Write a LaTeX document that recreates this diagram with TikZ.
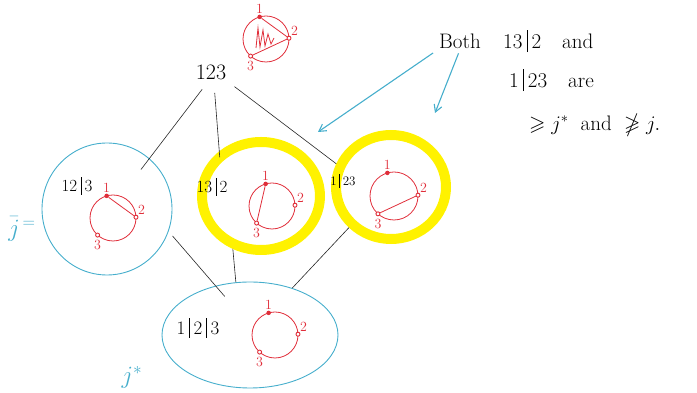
\documentclass[tikz,border=0pt]{standalone}
\usepackage{amsmath,amssymb}
\usepackage{tikz}
\usetikzlibrary{shapes.geometric,arrows.meta}
\definecolor{penblue}{RGB}{70,174,204}
\definecolor{penred}{RGB}{224,46,58}
\definecolor{hilite}{RGB}{255,242,0}
\newcommand{\bbar}{\hspace{0.2em}\rule[-0.18em]{0.7pt}{1.05em}\hspace{0.2em}}

\begin{document}
\begin{tikzpicture}[x=1pt, y=1pt, >={Straight Barb[length=7pt,width=8pt]},
    ring/.style={draw=penblue, line width=0.9pt, ellipse, inner sep=0pt},
    glow/.style={draw=hilite, line width=10pt, ellipse, inner sep=0pt},
    link/.style={draw=black!85, line width=0.6pt},
    pointer/.style={draw=penblue, line width=1.1pt, ->},
    part/.style={font=\fontsize{17}{19}\selectfont, inner sep=1pt},
    note/.style={font=\fontsize{21}{24}\selectfont, inner sep=1pt},
    jlab/.style={text=penblue, font=\fontsize{26}{28}\selectfont},
    num/.style={text=penred, font=\fontsize{14}{16}\selectfont, inner sep=1pt},
    vtx/.style={circle, fill=penred, inner sep=0pt, minimum size=4.5pt},
    vtxo/.style={circle, draw=penred, fill=white, line width=0.9pt, inner sep=0pt, minimum size=4pt}]
    \useasboundingbox (0,0) rectangle (697,393);

    % highlighted blocks first, so the lines sit on top
    \node[glow, minimum width=118, minimum height=108] (mid) at (261,197) {};
    \node[glow, minimum width=110, minimum height=104] (rt) at (391,206) {};
    \node[ring, minimum width=130, minimum height=132] (lft) at (107,184) {};
    \node[ring, minimum width=176, minimum height=106] (bot) at (250,58) {};

    % partition labels
    \node[font=\fontsize{22}{24}\selectfont] (t123) at (211,321) {123};
    \node[part] (p12) at (77,207) {12\bbar 3};
    \node[part] (p13) at (212,206) {13\bbar 2};
    \node[part, font=\fontsize{13}{15}\selectfont] (p1) at (343,212) {1\bbar 23};
    \node[part, font=\fontsize{19}{21}\selectfont] (p123) at (198,65) {1\bbar 2\bbar 3};

    % the little circles
    \coordinate (ctop) at (266,354);
    \coordinate (clft) at (113,175);
    \coordinate (cmid) at (272,187);
    \coordinate (crt) at (394,197);
    \coordinate (cbot) at (275,58);
    \foreach \c/\r in {ctop/23, clft/23, cmid/23, crt/24, cbot/23} {
        \draw[penred, line width=0.8pt] (\c) circle (\r);
        \node[vtx] (\c-1) at ([shift={(106:\r)}]\c) {};
        \node[vtxo] (\c-2) at ([shift={(2:\r)}]\c) {};
        \node[vtxo] (\c-3) at ([shift={(228:\r)}]\c) {};
        \node[num, above=2pt] at (\c-1) {1};
        \node[num, above right=1pt] at (\c-2) {2};
        \node[num, below=4pt] at (\c-3) {3};
    }
    \draw[penred, line width=0.8pt] (ctop-1) -- (ctop-2) -- (ctop-3) -- cycle;
    \draw[penred, line width=0.8pt] (256,345) -- (258,365) -- (260,346) -- (263,363)
        -- (265,347) -- (268,359) -- (271,349) -- (274,355);
    \draw[penred, line width=0.8pt] (clft-1) -- (clft-2);
    \draw[penred, line width=0.8pt] (cmid-1) -- (cmid-3);
    \draw[penred, line width=0.8pt] (crt-2) -- (crt-3);

    % order lines
    \draw[link, shorten <=8pt, shorten >=-14pt] (t123.250) -- (lft.50);
    \draw[link, shorten <=10pt, shorten >=-6pt] (t123.285) -- (mid.133);
    \draw[link, shorten <=6pt] (t123.south east) -- (rt.157);
    \draw[link, shorten <=6pt, shorten >=-14pt] (lft.-20) -- (bot.125);
    \draw[link] (mid.242) -- (bot.105);
    \draw[link] (rt.224) -- (bot.48);

    % j labels
    \node[jlab] (jtop) at (22,164) {${\bar{j}}^{\,=}$};
    \node[jlab] (jbot) at (132,16) {$j^{*}$};

    % remark
    \node[note] (both) at (460,352) {Both};
    \node[note, anchor=west] (l1) at (502,352) {13\bbar 2\quad and};
    \node[note, anchor=west] (l2) at (508,313) {1\bbar 23\quad are};
    \node[note, anchor=west] (l3) at (528,268) {$\geqslant j^{*}$\; and\; $\ngeqslant j.$};
    \coordinate (tipA) at (318,261);
    \coordinate (tipB) at (435,280);
    \draw[pointer, shorten <=6pt] (both.south west) -- (tipA);
    \draw[pointer, shorten <=4pt] (both.south) -- (tipB);
\end{tikzpicture}
\end{document}
